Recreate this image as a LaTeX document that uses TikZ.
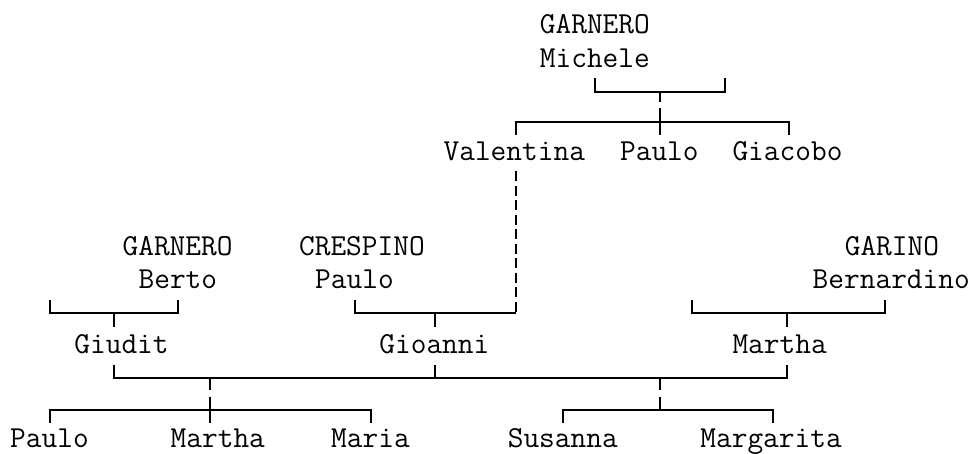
\documentclass[tikz,border=0pt]{standalone}
\usepackage{fontspec}
\begin{document}
\begin{tikzpicture}[x=1pt,y=-1pt,
  person/.style={anchor=base west,inner sep=0pt,font=\fontsize{30.5}{34}\selectfont\ttfamily\addfontfeature{FakeBold=2.5}},
  ln/.style={line width=1.6pt},
  dln/.style={line width=1.6pt,dash pattern=on 10pt off 4.5pt}]
\useasboundingbox (0,0) rectangle (973,453);
% ---- text ----
\node[person] (gmS) at (539.7,33) {GARNERO};
\node[person] (gmN) at (539.7,67) {Michele};
\node[person] (val) at (443.4,160) {Valentina};
\node[person] (pau1) at (619.9,160) {Paulo};
\node[person] (gia) at (732.3,160) {Giacobo};
\node[person] (gbS) at (122.4,255) {GARNERO};
\node[person] (gbN) at (138.4,288) {Berto};
\node[person] (cpS) at (298.9,255) {CRESPINO};
\node[person] (cpN) at (315.0,288) {Paulo};
\node[person] (gaS) at (844.6,255) {GARINO};
\node[person] (gaN) at (812.5,288) {Bernardino};
\node[person] (giu) at (74.2,353) {Giudit};
\node[person] (gio) at (379.2,353) {Gioanni};
\node[person] (mar) at (732.3,353) {Martha};
\node[person] (c1) at (10.0,447.5) {Paulo};
\node[person] (c2) at (170.5,447.5) {Martha};
\node[person] (c3) at (331.0,447.5) {Maria};
\node[person] (c4) at (507.6,447.5) {Susanna};
\node[person] (c5) at (700.2,447.5) {Margarita};
% ---- junction points ----
\coordinate (m1) at (595,78);  \coordinate (m1b) at (595,92);
\coordinate (m2) at (725,78);  \coordinate (m2b) at (725,92);
\coordinate (mc) at (660,92);  \coordinate (mc1) at (660,102);
\coordinate (mc2) at (660,108); \coordinate (mc3) at (660,135);
\coordinate (sL) at (516,122); \coordinate (sLb) at (516,135);
\coordinate (sR) at (789,122); \coordinate (sRb) at (789,135);
\coordinate (vt) at (516,171); \coordinate (vb) at (516,313);
\coordinate (pt) at (355,300); \coordinate (pb) at (355,313);
\coordinate (gj) at (435,313); \coordinate (gjb) at (435,327);
\coordinate (b1) at (50,300);  \coordinate (b1b) at (50,313);
\coordinate (b2) at (178,300); \coordinate (b2b) at (178,313);
\coordinate (bj) at (114,313); \coordinate (bjb) at (114,327);
\coordinate (r1) at (692,300); \coordinate (r1b) at (692,313);
\coordinate (r2) at (885,300); \coordinate (r2b) at (885,313);
\coordinate (rj) at (787,313); \coordinate (rjb) at (787,327);
\coordinate (w1) at (114,365); \coordinate (w1b) at (114,378);
\coordinate (w2) at (435,365); \coordinate (w2b) at (435,378);
\coordinate (w3) at (787,365); \coordinate (w3b) at (787,378);
\coordinate (dA) at (210,378); \coordinate (dA1) at (210,390);
\coordinate (dA2) at (210,397); \coordinate (dA3) at (210,423);
\coordinate (kA1) at (50,410);  \coordinate (kA1b) at (50,423);
\coordinate (kA2) at (371,410); \coordinate (kA2b) at (371,423);
\coordinate (dB) at (660,378); \coordinate (dB1) at (660,390);
\coordinate (dB2) at (660,397); \coordinate (dB3) at (660,410);
\coordinate (kB1) at (563,410); \coordinate (kB1b) at (563,423);
\coordinate (kB2) at (773,410); \coordinate (kB2b) at (773,423);
% ---- connectors ----
\draw[ln] (m1) -- (m1b) -- (m2b) -- (m2);
\draw[ln] (mc) -- (mc1);
\draw[ln] (mc2) -- (mc3);
\draw[ln] (sLb) -- (sL) -- (sR) -- (sRb);
\draw[dln] (vt) -- (vb);
\draw[ln] (pt) -- (pb) -- (vb);
\draw[ln] (gj) -- (gjb);
\draw[ln] (b1) -- (b1b) -- (b2b) -- (b2);
\draw[ln] (bj) -- (bjb);
\draw[ln] (r1) -- (r1b) -- (r2b) -- (r2);
\draw[ln] (rj) -- (rjb);
\draw[ln] (w1) -- (w1b) -- (w3b) -- (w3);
\draw[ln] (w2) -- (w2b);
\draw[ln] (dA) -- (dA1);
\draw[ln] (dA2) -- (dA3);
\draw[ln] (kA1b) -- (kA1) -- (kA2) -- (kA2b);
\draw[ln] (dB) -- (dB1);
\draw[ln] (dB2) -- (dB3);
\draw[ln] (kB1b) -- (kB1) -- (kB2) -- (kB2b);
\end{tikzpicture}
\end{document}
